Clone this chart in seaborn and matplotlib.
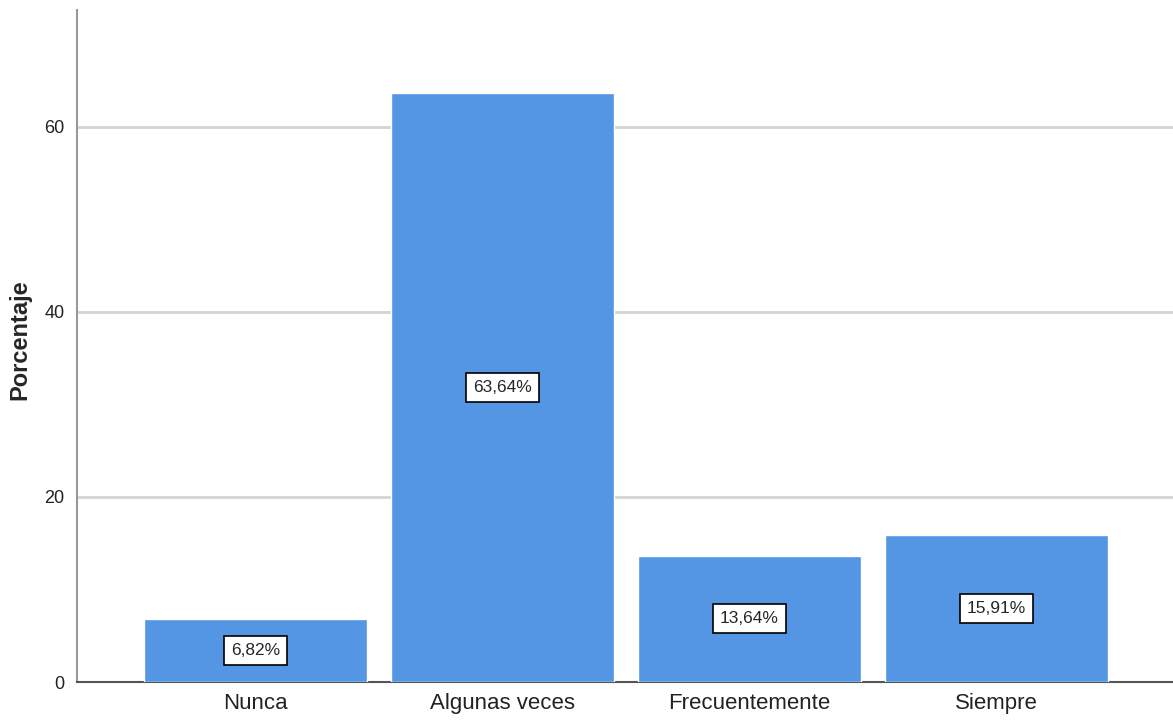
import numpy as np
import pandas as pd
import matplotlib
matplotlib.use('Agg')
import matplotlib.pyplot as plt
import seaborn as sns

# Dados do grafico (porcentagens por categoria)
categorias = ['Nunca', 'Algunas veces', 'Frecuentemente', 'Siempre']
porcentajes = [6.82, 63.64, 13.64, 15.91]
etiquetas = ['6,82%', '63,64%', '13,64%', '15,91%']
yticks = [0, 20, 40, 60]

df = pd.DataFrame({'categoria': categorias, 'porcentaje': porcentajes})

sns.set_style('white')
plt.rcParams['font.family'] = ['Liberation Sans Narrow', 'Liberation Sans', 'DejaVu Sans']

fig = plt.figure(figsize=(11.73, 7.24), dpi=100)
ax = fig.add_axes([0.0656, 0.058, 0.9344, 0.928])

sns.barplot(data=df, x='categoria', y='porcentaje', color='#5496e3', saturation=1,
            width=0.9, ax=ax, zorder=3)

ax.bar_label(ax.containers[0], labels=etiquetas, label_type='center', fontsize=12.5,
             bbox=dict(boxstyle='square,pad=0.4', facecolor='white', edgecolor='black', linewidth=1.2))

ax.set_ylim(0, 72.6)
ax.set_xlim(-0.723, 3.715)
ax.set_yticks(yticks)
ax.yaxis.grid(True, color='#d4d4d4', linewidth=2, zorder=0)
ax.set_axisbelow(True)

ax.tick_params(axis='y', labelsize=13, length=0, pad=9, colors='#222222')
ax.tick_params(axis='x', labelsize=16, length=0, pad=8, colors='#222222')

ax.set_xlabel('')
ax.set_ylabel('Porcentaje', fontsize=17, fontweight='bold',
              family=['Liberation Sans', 'DejaVu Sans'])
ax.yaxis.set_label_coords(-0.042, 0.51)

for lado in ['top', 'right']:
    ax.spines[lado].set_visible(False)
ax.spines['left'].set_color('#999999')
ax.spines['left'].set_linewidth(1.5)
ax.spines['bottom'].set_color('#555555')
ax.spines['bottom'].set_linewidth(1.5)

fig.savefig('out.png', dpi=100)
